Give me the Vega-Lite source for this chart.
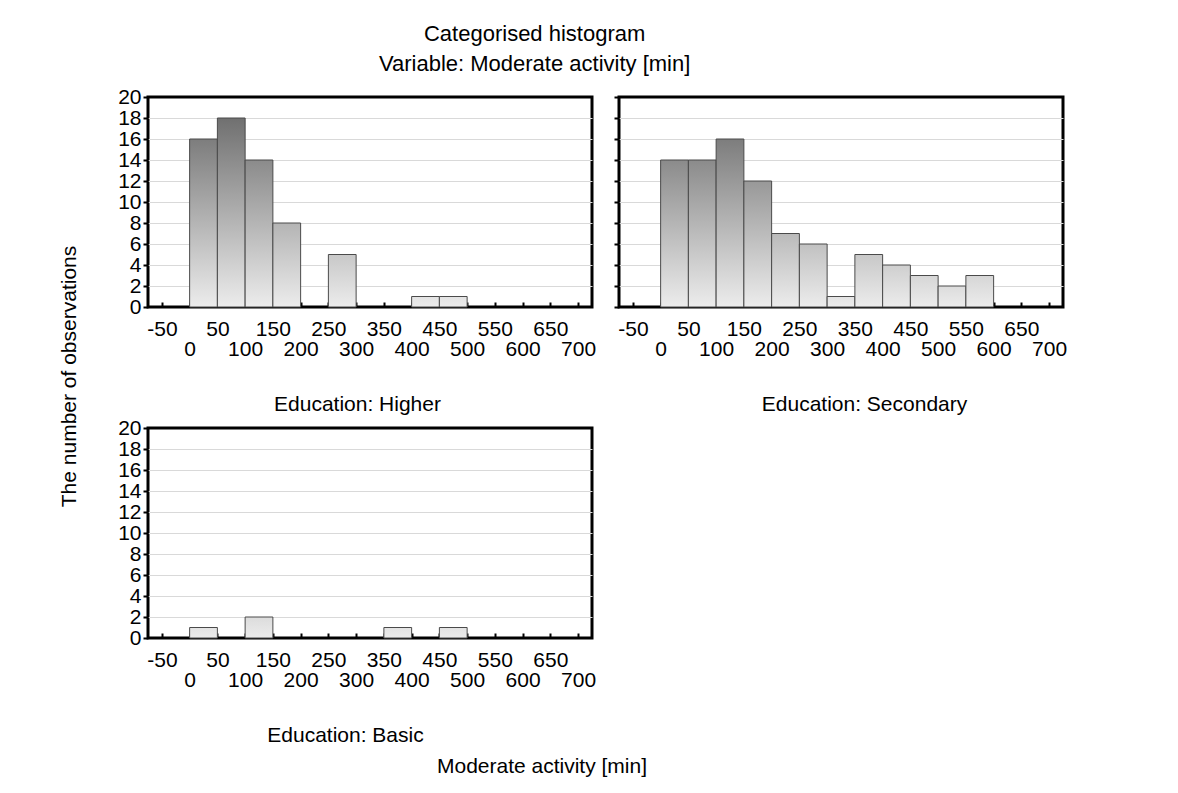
{
  "$schema": "https://vega.github.io/schema/vega-lite/v6.json",
  "padding": {"left": 57, "top": 22, "right": 5, "bottom": 5},
  "background": "white",
  "title": {
    "text": "Categorised histogram",
    "subtitle": "Variable: Moderate activity [min]",
    "font": "Liberation Sans",
    "subtitleFont": "Liberation Sans",
    "fontSize": 22,
    "subtitleFontSize": 22,
    "fontWeight": "normal",
    "color": "#000",
    "subtitleColor": "#000",
    "anchor": "middle",
    "dx": -28,
    "subtitlePadding": 8,
    "offset": 9
  },
  "data": {
    "values": [
      {"education": "Higher", "bin_start": 0, "bin_end": 50, "count": 16},
      {"education": "Higher", "bin_start": 50, "bin_end": 100, "count": 18},
      {"education": "Higher", "bin_start": 100, "bin_end": 150, "count": 14},
      {"education": "Higher", "bin_start": 150, "bin_end": 200, "count": 8},
      {"education": "Higher", "bin_start": 250, "bin_end": 300, "count": 5},
      {"education": "Higher", "bin_start": 400, "bin_end": 450, "count": 1},
      {"education": "Higher", "bin_start": 450, "bin_end": 500, "count": 1},
      {"education": "Secondary", "bin_start": 0, "bin_end": 50, "count": 14},
      {"education": "Secondary", "bin_start": 50, "bin_end": 100, "count": 14},
      {"education": "Secondary", "bin_start": 100, "bin_end": 150, "count": 16},
      {"education": "Secondary", "bin_start": 150, "bin_end": 200, "count": 12},
      {"education": "Secondary", "bin_start": 200, "bin_end": 250, "count": 7},
      {"education": "Secondary", "bin_start": 250, "bin_end": 300, "count": 6},
      {"education": "Secondary", "bin_start": 300, "bin_end": 350, "count": 1},
      {"education": "Secondary", "bin_start": 350, "bin_end": 400, "count": 5},
      {"education": "Secondary", "bin_start": 400, "bin_end": 450, "count": 4},
      {"education": "Secondary", "bin_start": 450, "bin_end": 500, "count": 3},
      {"education": "Secondary", "bin_start": 500, "bin_end": 550, "count": 2},
      {"education": "Secondary", "bin_start": 550, "bin_end": 600, "count": 3},
      {"education": "Basic", "bin_start": 0, "bin_end": 50, "count": 1},
      {"education": "Basic", "bin_start": 100, "bin_end": 150, "count": 2},
      {"education": "Basic", "bin_start": 350, "bin_end": 400, "count": 1},
      {"education": "Basic", "bin_start": 450, "bin_end": 500, "count": 1}
    ]
  },
  "columns": 2,
  "spacing": {"row": 121, "column": 27},
  "bounds": "flush",
  "concat": [
    {
      "width": 444,
      "height": 210,
      "transform": [{"filter": "datum.education === 'Higher'"}],
      "mark": {
        "type": "bar",
        "stroke": "#4a4a4a",
        "strokeWidth": 1,
        "fill": {"expr": "{gradient: 'linear', x1: 0, y1: 0, x2: 0, y2: 1, stops: [{offset: 0, color: 'rgb(' + round(234 - 6.8 * datum.count) + ',' + round(234 - 6.8 * datum.count) + ',' + round(234 - 6.8 * datum.count) + ')'}, {offset: 1, color: 'rgb(236,236,236)'}]}"}
      },
      "encoding": {
        "x": {
          "field": "bin_start",
          "type": "quantitative",
          "scale": {"domain": [-75, 725], "nice": false, "zero": false},
          "axis": {
            "title": "Education: Higher", "titleX": 209,
            "values": [-50, 0, 50, 100, 150, 200, 250, 300, 350, 400, 450, 500, 550, 600, 650, 700],
            "labelExpr": "datum.value % 100 === 0 ? ['', '' + datum.value] : '' + datum.value"
          }
        },
        "x2": {"field": "bin_end"},
        "y": {
          "field": "count",
          "type": "quantitative",
          "scale": {"domain": [0, 20], "nice": false},
          "axis": {"title": "The number of observations", "titleY": 279, "values": [0, 2, 4, 6, 8, 10, 12, 14, 16, 18, 20]}
        },
        "y2": {"datum": 0}
      }
    },
    {
      "width": 444,
      "height": 210,
      "transform": [{"filter": "datum.education === 'Secondary'"}],
      "mark": {
        "type": "bar",
        "stroke": "#4a4a4a",
        "strokeWidth": 1,
        "fill": {"expr": "{gradient: 'linear', x1: 0, y1: 0, x2: 0, y2: 1, stops: [{offset: 0, color: 'rgb(' + round(234 - 6.8 * datum.count) + ',' + round(234 - 6.8 * datum.count) + ',' + round(234 - 6.8 * datum.count) + ')'}, {offset: 1, color: 'rgb(236,236,236)'}]}"}
      },
      "encoding": {
        "x": {
          "field": "bin_start",
          "type": "quantitative",
          "scale": {"domain": [-75, 725], "nice": false, "zero": false},
          "axis": {
            "title": "Education: Secondary", "titleX": 245,
            "values": [-50, 0, 50, 100, 150, 200, 250, 300, 350, 400, 450, 500, 550, 600, 650, 700],
            "labelExpr": "datum.value % 100 === 0 ? ['', '' + datum.value] : '' + datum.value"
          }
        },
        "x2": {"field": "bin_end"},
        "y": {
          "field": "count",
          "type": "quantitative",
          "scale": {"domain": [0, 20], "nice": false},
          "axis": {"title": null, "labels": false, "values": [0, 2, 4, 6, 8, 10, 12, 14, 16, 18, 20]}
        },
        "y2": {"datum": 0}
      }
    },
    {
      "width": 444,
      "height": 210,
      "transform": [{"filter": "datum.education === 'Basic'"}],
      "title": {
        "text": "Moderate activity [min]",
        "orient": "bottom",
        "anchor": "middle",
        "dx": 172,
        "offset": 11,
        "font": "Liberation Sans",
        "fontSize": 21,
        "fontWeight": "normal",
        "color": "#000"
      },
      "mark": {
        "type": "bar",
        "stroke": "#4a4a4a",
        "strokeWidth": 1,
        "fill": {"expr": "{gradient: 'linear', x1: 0, y1: 0, x2: 0, y2: 1, stops: [{offset: 0, color: 'rgb(' + round(234 - 6.8 * datum.count) + ',' + round(234 - 6.8 * datum.count) + ',' + round(234 - 6.8 * datum.count) + ')'}, {offset: 1, color: 'rgb(236,236,236)'}]}"}
      },
      "encoding": {
        "x": {
          "field": "bin_start",
          "type": "quantitative",
          "scale": {"domain": [-75, 725], "nice": false, "zero": false},
          "axis": {
            "title": "Education: Basic", "titleX": 197,
            "values": [-50, 0, 50, 100, 150, 200, 250, 300, 350, 400, 450, 500, 550, 600, 650, 700],
            "labelExpr": "datum.value % 100 === 0 ? ['', '' + datum.value] : '' + datum.value"
          }
        },
        "x2": {"field": "bin_end"},
        "y": {
          "field": "count",
          "type": "quantitative",
          "scale": {"domain": [0, 20], "nice": false},
          "axis": {"title": null, "values": [0, 2, 4, 6, 8, 10, 12, 14, 16, 18, 20]}
        },
        "y2": {"datum": 0}
      }
    }
  ],
  "config": {
    "view": {"stroke": "#000", "strokeWidth": 3},
    "axis": {
      "labelFont": "Liberation Sans",
      "labelFontSize": 21,
      "labelColor": "#000",
      "titleFont": "Liberation Sans",
      "titleFontSize": 21,
      "titleFontWeight": "normal",
      "titleColor": "#000",
      "domain": false,
      "tickColor": "#000",
      "tickWidth": 2,
      "tickSize": 5
    },
    "axisX": {
      "grid": false,
      "tickSize": -5,
      "labelPadding": 16,
      "labelLineHeight": 20,
      "labelOverlap": false,
      "labelFlush": false,
      "titlePadding": 34
    },
    "axisY": {
      "grid": true,
      "gridColor": {"condition": {"test": "datum.value === 0 || datum.value === 20", "value": "transparent"}, "value": "#d9d9d9"},
      "gridWidth": 1,
      "labelPadding": 2,
      "labelOverlap": false,
      "labelFlush": false,
      "titlePadding": 38
    }
  }
}
